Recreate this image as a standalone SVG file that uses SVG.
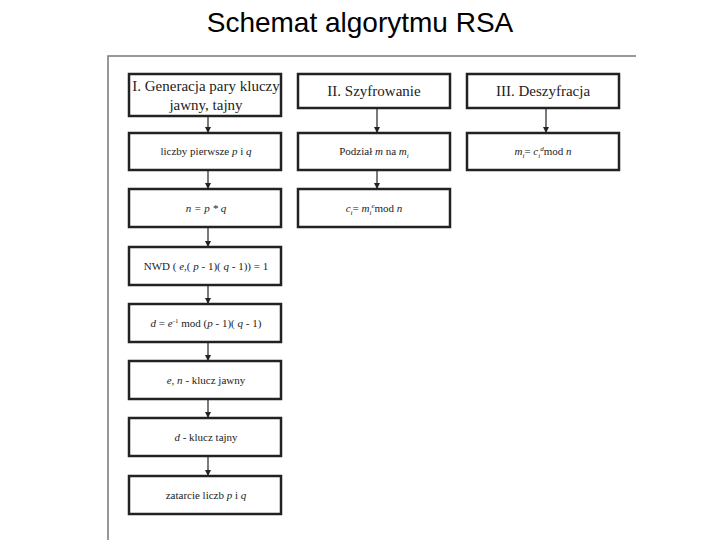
<svg xmlns="http://www.w3.org/2000/svg" width="720" height="540" viewBox="0 0 720 540">
<style>
.b{fill:#fff;stroke:#222;stroke-width:2.5}
.t{font-family:"Liberation Serif",serif;font-size:11px;fill:#222;text-anchor:middle}
.h{font-family:"Liberation Serif",serif;font-size:15px;fill:#222;text-anchor:middle}
.c line{stroke:#222;stroke-width:1.2;marker-end:url(#a)}
</style>
<defs><marker id="a" markerWidth="6" markerHeight="6" refX="5" refY="3" orient="auto" markerUnits="userSpaceOnUse"><path d="M0,0L6,3L0,6z" fill="#222"/></marker></defs>
<rect width="720" height="540" fill="#fff"/>
<text x="360" y="32" font-family="Liberation Sans,sans-serif" font-size="28" text-anchor="middle" fill="#000">Schemat algorytmu RSA</text>
<path d="M108,540V56H636" fill="none" stroke="#777" stroke-width="1.5"/>
<g class="c">
<line x1="208" y1="116" x2="208" y2="132"/>
<line x1="208" y1="170" x2="208" y2="188"/>
<line x1="208" y1="227" x2="208" y2="246"/>
<line x1="208" y1="285" x2="208" y2="303"/>
<line x1="208" y1="342" x2="208" y2="360"/>
<line x1="208" y1="399" x2="208" y2="417"/>
<line x1="208" y1="456" x2="208" y2="475"/>
<line x1="377" y1="108" x2="377" y2="132"/>
<line x1="377" y1="170" x2="377" y2="188"/>
<line x1="546" y1="108" x2="546" y2="132"/>
</g>
<g id="n1"><rect class="b" x="129" y="74" width="152" height="42"/><text class="h" x="206" y="91">I. Generacja pary kluczy</text><text class="h" x="206" y="110">jawny, tajny</text></g>
<g id="n2"><rect class="b" x="129" y="133" width="152" height="37"/><text class="t" x="206" y="155">liczby pierwsze <tspan font-style="italic">p</tspan> i <tspan font-style="italic">q</tspan></text></g>
<g id="n3"><rect class="b" x="129" y="189" width="152" height="38"/><text class="t" x="206" y="212" font-style="italic">n  =  p * q</text></g>
<g id="n4"><rect class="b" x="129" y="247" width="152" height="38"/><text class="t" x="206" y="270">NWD ( <tspan font-style="italic">e</tspan>,( <tspan font-style="italic">p</tspan> - 1)( <tspan font-style="italic">q</tspan> - 1)) = 1</text></g>
<g id="n5"><rect class="b" x="129" y="304" width="152" height="38"/><text class="t" x="206" y="327"><tspan font-style="italic">d</tspan> = <tspan font-style="italic">e</tspan><tspan font-size="7" dy="-4">-1</tspan><tspan dy="4"> mod (</tspan><tspan font-style="italic">p</tspan> - 1)( <tspan font-style="italic">q</tspan> - 1)</text></g>
<g id="n6"><rect class="b" x="129" y="361" width="152" height="38"/><text class="t" x="206" y="384"><tspan font-style="italic">e, n</tspan>  - klucz jawny</text></g>
<g id="n7"><rect class="b" x="129" y="418" width="152" height="38"/><text class="t" x="206" y="441"><tspan font-style="italic">d</tspan>  - klucz tajny</text></g>
<g id="n8"><rect class="b" x="129" y="476" width="152" height="38"/><text class="t" x="206" y="499">zatarcie liczb  <tspan font-style="italic">p</tspan>  i  <tspan font-style="italic">q</tspan></text></g>
<g id="n9"><rect class="b" x="298" y="74" width="152" height="34"/><text class="h" x="374" y="96">II. Szyfrowanie</text></g>
<g id="n10"><rect class="b" x="298" y="133" width="152" height="37"/><text class="t" x="374" y="155">Podział <tspan font-style="italic">m</tspan> na  <tspan font-style="italic">m</tspan><tspan font-size="7" dy="3" font-style="italic">i</tspan></text></g>
<g id="n11"><rect class="b" x="298" y="189" width="152" height="38"/><text class="t" x="374" y="212"><tspan font-style="italic">c</tspan><tspan font-size="7" dy="3" font-style="italic">i</tspan><tspan dy="-3">= </tspan><tspan font-style="italic">m</tspan><tspan font-size="7" dy="3" font-style="italic">i</tspan><tspan font-size="7" dy="-7" font-style="italic">e</tspan><tspan dy="4">mod  </tspan><tspan font-style="italic">n</tspan></text></g>
<g id="n12"><rect class="b" x="467" y="74" width="152" height="34"/><text class="h" x="543" y="96">III. Deszyfracja</text></g>
<g id="n13"><rect class="b" x="467" y="133" width="152" height="37"/><text class="t" x="543" y="155"><tspan font-style="italic">m</tspan><tspan font-size="7" dy="3" font-style="italic">i</tspan><tspan dy="-3">= </tspan><tspan font-style="italic">c</tspan><tspan font-size="7" dy="3" font-style="italic">i</tspan><tspan font-size="7" dy="-7" font-style="italic">d</tspan><tspan dy="4">mod  </tspan><tspan font-style="italic">n</tspan></text></g>
</svg>
